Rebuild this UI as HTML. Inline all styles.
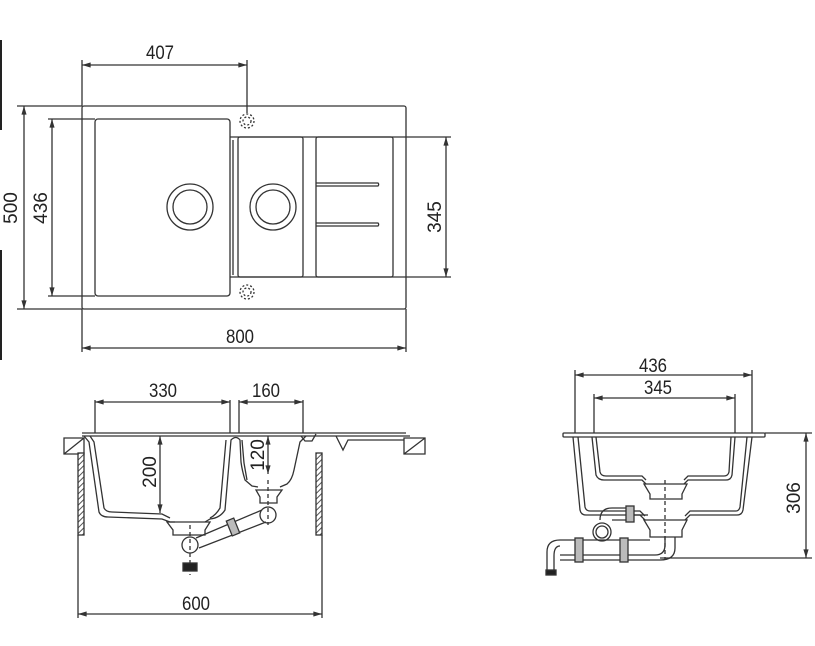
<!DOCTYPE html>
<html><head><meta charset="utf-8"><style>
html,body{margin:0;padding:0;background:#fff;}
svg{display:block;}
text{font-family:"Liberation Sans",sans-serif;font-size:19px;fill:#222;}
</style></head><body>
<svg width="815" height="646" viewBox="0 0 815 646" xmlns="http://www.w3.org/2000/svg">
<defs>
<marker id="a" viewBox="0 0 10 6" refX="10" refY="3" markerWidth="10" markerHeight="4" orient="auto-start-reverse"><path d="M0,0 L10,3 L0,6z" fill="#333"/></marker>
<pattern id="h" width="4" height="4" patternUnits="userSpaceOnUse" patternTransform="rotate(45)"><rect width="4" height="4" fill="#fff"/><line x1="0" y1="0" x2="0" y2="4" stroke="#555" stroke-width="2"/></pattern>
</defs>
<rect x="0" y="40" width="2" height="90" fill="#222"/>
<rect x="0" y="250" width="2" height="110" fill="#222"/>
<g fill="none" stroke="#333" stroke-width="1.3">
<rect x="82" y="106" width="324" height="203" rx="2"/>
<rect x="95" y="119" width="135" height="177" rx="3"/>
<rect x="238" y="137" width="65" height="140" rx="2"/>
<rect x="316" y="137" width="77" height="140" rx="2"/>
<line x1="230" y1="137" x2="392" y2="137"/><line x1="230" y1="277" x2="392" y2="277"/>
<line x1="233" y1="140" x2="233" y2="275"/>
<path d="M316,186 H378 a2,2 0 0 0 0,-3 H316"/>
<path d="M316,226 H378 a2,2 0 0 0 0,-3 H316"/>
<circle cx="190" cy="207" r="23"/><circle cx="190" cy="207" r="17"/>
<circle cx="273" cy="207" r="23"/><circle cx="273" cy="207" r="17"/>
<circle cx="247" cy="121" r="7" stroke-dasharray="2,2"/><circle cx="247" cy="121" r="4" stroke-dasharray="2,2"/>
<circle cx="247" cy="292" r="7" stroke-dasharray="2,2"/><circle cx="247" cy="292" r="4" stroke-dasharray="2,2"/>
<line x1="82" y1="65" x2="247" y2="65" marker-start="url(#a)" marker-end="url(#a)"/>
<line x1="82" y1="60" x2="82" y2="106"/><line x1="247" y1="60" x2="247" y2="113"/>
<line x1="24" y1="106" x2="24" y2="309" marker-start="url(#a)" marker-end="url(#a)"/>
<line x1="17" y1="106" x2="82" y2="106"/><line x1="17" y1="309" x2="82" y2="309"/>
<line x1="52" y1="119" x2="52" y2="296" marker-start="url(#a)" marker-end="url(#a)"/>
<line x1="48" y1="119" x2="95" y2="119"/><line x1="48" y1="296" x2="95" y2="296"/>
<line x1="446" y1="137" x2="446" y2="277" marker-start="url(#a)" marker-end="url(#a)"/>
<line x1="392" y1="137" x2="451" y2="137"/><line x1="392" y1="277" x2="451" y2="277"/>
<line x1="82" y1="348" x2="406" y2="348" marker-start="url(#a)" marker-end="url(#a)"/>
<line x1="82" y1="309" x2="82" y2="352"/><line x1="406" y1="309" x2="406" y2="352"/>
<line x1="82" y1="433" x2="406" y2="433"/><line x1="82" y1="436" x2="410" y2="436"/>
<line x1="95" y1="400" x2="95" y2="433"/><line x1="230" y1="400" x2="230" y2="433"/>
<line x1="239" y1="400" x2="239" y2="433"/><line x1="303" y1="400" x2="303" y2="433"/>
<line x1="95" y1="402" x2="230" y2="402" marker-start="url(#a)" marker-end="url(#a)"/>
<line x1="239" y1="402" x2="303" y2="402" marker-start="url(#a)" marker-end="url(#a)"/>
<path d="M64,438 H84 V454 H64z M64,454 L84,438"/>
<path d="M404,438 H425 V454 H404z M404,454 L425,438"/>
<rect x="78" y="453" width="6" height="82" fill="url(#h)"/>
<rect x="316" y="453" width="6" height="82" fill="url(#h)"/>
<path d="M84,436 L89,442 L99,512 Q101,517 108,517 L162,519 L170,522 L175,522"/>
<path d="M90,436 L94,442 L104,508 Q106,512 112,512 L162,514 L170,518"/>
<path d="M205,522 L210,519 Q220,518 225,510 L231,440 Q236,435 240,440 L241,462 Q242,470 245,480 L252,486 L258,487"/>
<path d="M210,518 Q216,515 220,508 L226,440"/>
<path d="M247,480 L244,463 L242,440"/>
<path d="M280,487 L287,484 Q292,480 294,470 L300,442 L306,436"/>
<path d="M256,490 H282 L277,497 V503 H260 V497z"/>
<path d="M167,522 H210 L205,530 V535 H173 V530z"/>
<path d="M301,436 L305,441 H312 L316,434"/>
<path d="M336,436 L343,450 L348,440 H404"/>
<circle cx="190" cy="545" r="8"/><circle cx="268" cy="515" r="8"/>
<line x1="196" y1="538" x2="262" y2="510"/><line x1="199" y1="548" x2="266" y2="522"/>
<rect x="229" y="519" width="8" height="16" transform="rotate(-22 233 527)" fill="#bbb"/>
<line x1="190" y1="525" x2="190" y2="575" stroke-dasharray="4,3"/>
<line x1="268" y1="480" x2="268" y2="525" stroke-dasharray="4,3"/>
<line x1="160" y1="436" x2="160" y2="513" marker-start="url(#a)" marker-end="url(#a)"/>
<line x1="268" y1="436" x2="268" y2="474" marker-start="url(#a)" marker-end="url(#a)"/>
<line x1="78" y1="535" x2="78" y2="618"/><line x1="322" y1="535" x2="322" y2="618"/>
<line x1="78" y1="614" x2="322" y2="614" marker-start="url(#a)" marker-end="url(#a)"/>
<line x1="575" y1="370" x2="575" y2="433"/><line x1="752" y1="370" x2="752" y2="433"/>
<line x1="594" y1="394" x2="594" y2="433"/><line x1="735" y1="394" x2="735" y2="433"/>
<line x1="575" y1="375" x2="752" y2="375" marker-start="url(#a)" marker-end="url(#a)"/>
<line x1="594" y1="398" x2="735" y2="398" marker-start="url(#a)" marker-end="url(#a)"/>
<rect x="563" y="433" width="202" height="4" rx="1"/>
<line x1="765" y1="433" x2="812" y2="433"/><line x1="660" y1="558" x2="812" y2="558"/>
<line x1="806" y1="433" x2="806" y2="558" marker-start="url(#a)" marker-end="url(#a)"/>
<path d="M573,437 L580,510 Q581,515 586,515 L640,515 L645,520 M685,520 L690,515 L737,515 Q742,515 743,510 L752,437"/>
<path d="M578,437 L585,507 Q586,511 590,511 L640,511 L645,516 M685,516 L690,511 L736,511 Q739,511 740,507 L747,437"/>
<path d="M592,437 L596,475 Q598,480 604,480 L642,480 L646,484 M684,484 L688,480 L726,480 Q731,480 732,475 L735,437"/>
<path d="M596,437 L600,472 Q601,476 606,476 L642,476 L646,480 M684,480 L688,476 L724,476 Q728,476 729,472 L731,437"/>
<path d="M644,484 H687 L682,494 V499 H650 V494z"/>
<path d="M644,520 H687 L682,530 V537 H650 V530z"/>
<line x1="665" y1="480" x2="665" y2="560" stroke-dasharray="4,3"/>
<path d="M665,537 V545 Q665,555 655,555 H560"/>
<path d="M675,537 V548 Q675,560 660,560 H560"/>
<path d="M560,540 Q547,540 547,552 V570 M560,546 Q554,546 554,556 V570"/>
<line x1="560" y1="540" x2="650" y2="540"/>
<rect x="546" y="570" width="10" height="5" fill="#222"/>
<rect x="575" y="538" width="8" height="24" fill="#bbb"/>
<rect x="620" y="538" width="8" height="24" fill="#bbb"/>
<circle cx="602" cy="532" r="9"/><circle cx="602" cy="532" r="6"/>
<path d="M600,520 Q600,508 612,508 H630 M612,520 H630"/>
<rect x="626" y="506" width="8" height="16" fill="#bbb"/>
<line x1="634" y1="515" x2="648" y2="515"/>
<rect x="183" y="563" width="14" height="8" fill="#222"/>
</g>
<text x="146" y="59" textLength="28" lengthAdjust="spacingAndGlyphs">407</text>
<text x="226" y="343" textLength="28" lengthAdjust="spacingAndGlyphs">800</text>
<text transform="translate(17,208) rotate(-90)" text-anchor="middle">500</text>
<text transform="translate(47,208) rotate(-90)" text-anchor="middle">436</text>
<text transform="translate(441,217) rotate(-90)" text-anchor="middle">345</text>
<text x="149" y="397" textLength="28" lengthAdjust="spacingAndGlyphs">330</text>
<text x="252" y="397" textLength="28" lengthAdjust="spacingAndGlyphs">160</text>
<text x="182" y="610" textLength="28" lengthAdjust="spacingAndGlyphs">600</text>
<text transform="translate(156,472) rotate(-90)" text-anchor="middle">200</text>
<text transform="translate(264,455) rotate(-90)" text-anchor="middle">120</text>
<text x="639" y="372" textLength="28" lengthAdjust="spacingAndGlyphs">436</text>
<text x="644" y="394" textLength="28" lengthAdjust="spacingAndGlyphs">345</text>
<text transform="translate(800,498) rotate(-90)" text-anchor="middle">306</text>
</svg>
</body></html>
